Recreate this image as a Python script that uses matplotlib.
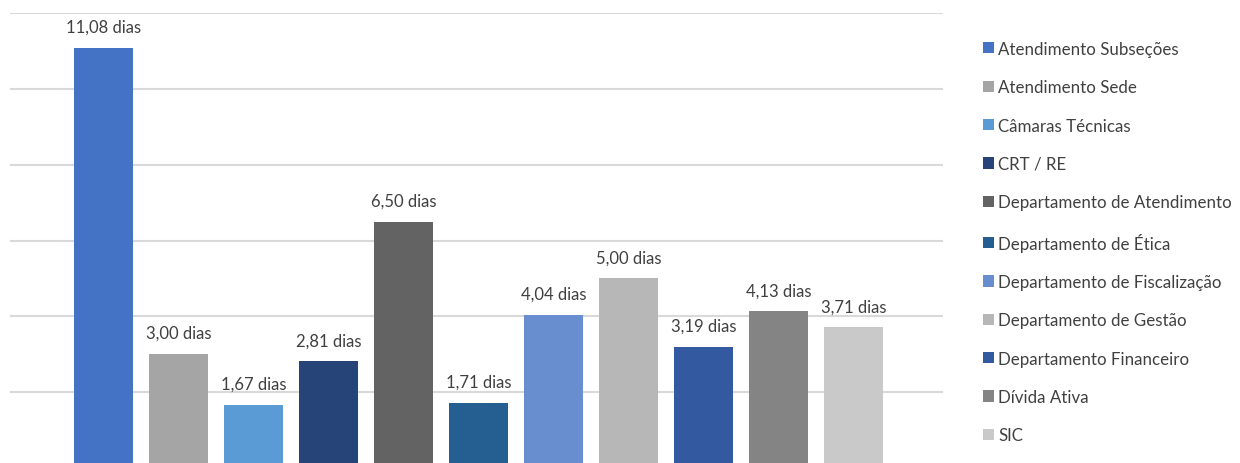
import matplotlib.pyplot as plt

plt.rcParams['font.family'] = ['Lato', 'DejaVu Sans']

# tempo médio de resposta por setor (dias)
setores = [
    "Atendimento Subseções", "Atendimento Sede", "Câmaras Técnicas", "CRT / RE",
    "Departamento de Atendimento", "Departamento de Ética",
    "Departamento de Fiscalização", "Departamento de Gestão",
    "Departamento Financeiro", "Dívida Ativa", "SIC",
]
dias = [11.08, 3.00, 1.67, 2.81, 6.50, 1.71, 4.04, 5.00, 3.19, 4.13, 3.71]
cores = [
    "#4472C4", "#A5A5A5", "#5B9BD5", "#264478", "#636363", "#255E91",
    "#698ED0", "#B7B7B7", "#335AA1", "#848484", "#C9C9C9",
]

W, H = 1240, 464
fig = plt.figure(figsize=(W / 100, H / 100), dpi=100)
ax = fig.add_axes([10 / W, -5 / H, 933 / W, 455 / H])

x = list(range(len(dias)))
barras = ax.bar(x, dias, width=0.787, color=cores, zorder=3)

for xi, v in zip(x, dias):
    rotulo = f"{v:.2f}".replace(".", ",") + " dias"
    ax.annotate(rotulo, (xi, v), xytext=(0, 9.5), textcoords="offset points",
                ha="center", va="bottom", fontsize=12, color="#404040")

ax.set_xlim(-1.247, 11.19)
ax.set_ylim(0, 12)
ax.set_yticks(range(2, 13, 2))
ax.grid(axis="y", color="#D9D9D9", linewidth=1.5, zorder=0)
ax.tick_params(left=False, bottom=False, labelleft=False, labelbottom=False)
for s in ax.spines.values():
    s.set_visible(False)

fig.legend(barras, setores, loc="upper left", bbox_to_anchor=(976 / W, 1 - 35 / H),
           frameon=False, fontsize=12.2, labelcolor="#404040",
           handlelength=0.65, handleheight=0.65, handletextpad=0.25,
           labelspacing=1.32, borderaxespad=0)

fig.savefig("out.png", dpi=100)
